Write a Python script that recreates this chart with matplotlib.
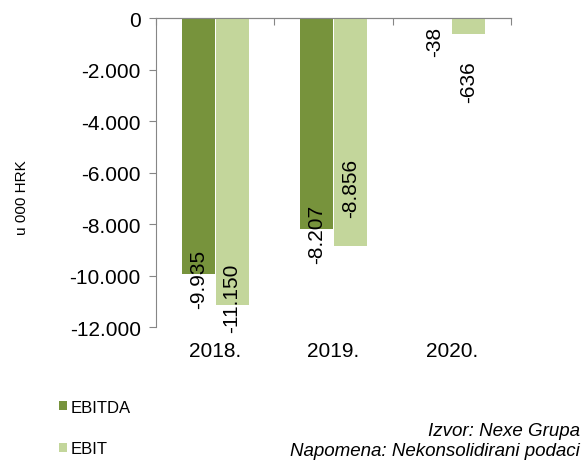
import numpy as np
import matplotlib
matplotlib.use("Agg")
import matplotlib.pyplot as plt
from matplotlib.ticker import FuncFormatter

plt.rcParams['font.family'] = ['Liberation Sans', 'DejaVu Sans']

# podaci
godine = ['2018.', '2019.', '2020.']
ebitda = [-9935, -8207, -38]
ebit = [-11150, -8856, -636]
yticks = [0, -2000, -4000, -6000, -8000, -10000, -12000]

# pomaci oznaka vrijednosti (u točkama)
pomak_ebitda = [-3, -3, -16]
pomak_ebit = [6, 42, -34]

c_ebitda = '#77933C'
c_ebit = '#C3D69B'
c_os = '#868686'

fig = plt.figure(figsize=(5.83, 4.64), dpi=100)
ax = fig.add_axes([0.2676, 0.293, 0.609, 0.666])

x = np.arange(len(godine))
w = 0.28
b1 = ax.bar(x - w / 2 - 0.003, ebitda, w, color=c_ebitda, label='EBITDA')
b2 = ax.bar(x + w / 2 + 0.003, ebit, w, color=c_ebit, label='EBIT')

def fmt(v):
    return f"{v:,.0f}".replace(',', '.')

for rect, v, d in zip(b1, ebitda, pomak_ebitda):
    ax.annotate(fmt(v), (rect.get_x() + rect.get_width() / 2, v),
                xytext=(0, d), textcoords='offset points', rotation=90,
                ha='center', va='center', fontsize=15)
for rect, v, d in zip(b2, ebit, pomak_ebit):
    ax.annotate(fmt(v), (rect.get_x() + rect.get_width() / 2, v),
                xytext=(0, d), textcoords='offset points', rotation=90,
                ha='center', va='center', fontsize=15)

ax.set_xlim(-0.5, 2.5)
ax.set_ylim(-12000, 0)
ax.set_yticks(yticks)
ax.yaxis.set_major_formatter(FuncFormatter(lambda v, p: fmt(v)))
ax.set_xticks(x)
ax.set_xticklabels(godine)
ax.tick_params(axis='x', length=0, labelsize=15, pad=10)
ax.tick_params(axis='y', length=5, color=c_os, labelsize=15, pad=6)

for s in ['right', 'bottom']:
    ax.spines[s].set_visible(False)
ax.spines['left'].set_color(c_os)
ax.spines['top'].set_color(c_os)

# kategorijska os na nuli s crticama na granicama
sec = ax.secondary_xaxis('top')
sec.set_xticks([-0.5, 0.5, 1.5, 2.5])
sec.tick_params(direction='in', length=5, color=c_os, labeltop=False)
sec.spines['top'].set_color(c_os)

fig.text(0.038, 0.575, 'u 000 HRK', rotation=90, ha='center', va='center', fontsize=11)

leg = fig.legend(handles=[b1, b2], loc='lower left', bbox_to_anchor=(0.076, -0.018),
                 frameon=False, fontsize=12, handlelength=0.45, handleheight=0.45,
                 handletextpad=0.2, labelspacing=1.6)

fig.text(0.995, 0.069, 'Izvor: Nexe Grupa', ha='right', va='center',
         fontsize=13.5, style='italic')
fig.text(0.995, 0.026, 'Napomena: Nekonsolidirani podaci', ha='right', va='center',
         fontsize=13.5, style='italic')

fig.savefig('out.png', dpi=100)
